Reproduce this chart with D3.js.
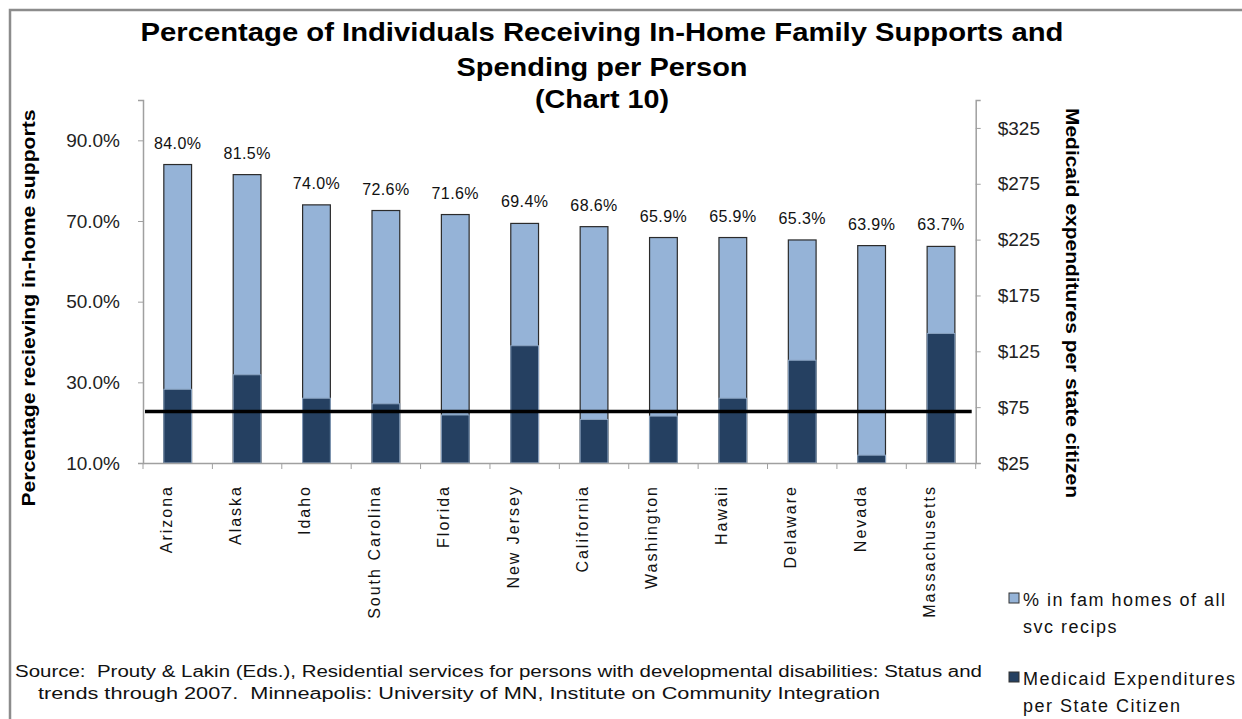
<!DOCTYPE html>
<html>
<head>
<meta charset="utf-8">
<script src="https://cdn.jsdelivr.net/npm/d3@7"></script>
<style>
  body { margin: 0; background: #fff; }
  svg { display: block; font-family: "Liberation Sans", Arial, sans-serif; }
</style>
</head>
<body>
<div id="chart"></div>
<script>
// data
var states = ["Arizona", "Alaska", "Idaho", "South Carolina", "Florida", "New Jersey",
              "California", "Washington", "Hawaii", "Delaware", "Nevada", "Massachusetts"]
var pctFamHomes = [84.0, 81.5, 74.0, 72.6, 71.6, 69.4, 68.6, 65.9, 65.9, 65.3, 63.9, 63.7]
var medicaidPerCitizen = [91, 104, 83, 78, 68, 130, 64, 67, 83, 117, 32, 141]
var referenceSpend = 71
var leftTicks = [10, 30, 50, 70, 90]
var rightTicks = [25, 75, 125, 175, 225, 275, 325]

var W = 1242, H = 719
var margin = {top: 100, right: W - 975.7, bottom: H - 463, left: 143}
var width = W - margin.left - margin.right,
    height = H - margin.top - margin.bottom

var lightBlue = "#95b3d7", darkBlue = "#254061", axisGray = "#a0a0a0"

var svg = d3.select("#chart").append("svg")
    .attr("width", W)
    .attr("height", H)

// outer chart border (cut by the image edge on the right and bottom)
svg.append("rect")
  .attr("x", 10).attr("y", 10)
  .attr("width", W + 20).attr("height", H + 20)
  .attr("fill", "none")
  .attr("stroke", "#8c8c8c")
  .attr("stroke-width", 2.5)

// title
var titleLines = [
  {t: "Percentage of Individuals Receiving In-Home Family Supports and", y: 41, w: 923},
  {t: "Spending per Person", y: 76, w: 291},
  {t: "(Chart 10)", y: 108, w: 134}
]
svg.selectAll(".title").data(titleLines).enter().append("text")
  .attr("class", "title")
  .attr("x", 602)
  .attr("y", function(d) { return d.y })
  .attr("text-anchor", "middle")
  .attr("textLength", function(d) { return d.w })
  .attr("lengthAdjust", "spacingAndGlyphs")
  .style("font-size", "26px")
  .style("font-weight", "bold")
  .text(function(d) { return d.t })

var g = svg.append("g")
    .attr("transform", "translate(" + margin.left + "," + margin.top + ")")

var x = d3.scaleBand().domain(states).range([0, width]).paddingInner(0.6).paddingOuter(0.3)
var yL = d3.scaleLinear().domain([10, 100]).range([height, 0])
var yR = d3.scaleLinear().domain([25, 350]).range([height, 0])

var rows = states.map(function(s, i) {
  return {state: s, pct: pctFamHomes[i], spend: medicaidPerCitizen[i]}
})

// light bars: % in family homes (left axis)
g.selectAll(".light").data(rows).enter().append("rect")
  .attr("class", "light")
  .attr("x", function(d) { return x(d.state) })
  .attr("y", function(d) { return yL(d.pct) })
  .attr("width", x.bandwidth())
  .attr("height", function(d) { return height - yL(d.pct) })
  .attr("fill", lightBlue)
  .attr("stroke", "#2b2b2b")
  .attr("stroke-width", 1.2)

// dark bars: Medicaid $ per citizen (right axis), drawn in front
g.selectAll(".dark").data(rows).enter().append("rect")
  .attr("class", "dark")
  .attr("x", function(d) { return x(d.state) })
  .attr("y", function(d) { return yR(d.spend) })
  .attr("width", x.bandwidth())
  .attr("height", function(d) { return height - yR(d.spend) })
  .attr("fill", darkBlue)
  .attr("stroke", "#8aa3c0")
  .attr("stroke-width", 1)

// data labels
g.selectAll(".lbl").data(rows).enter().append("text")
  .attr("class", "lbl")
  .attr("x", function(d) { return x(d.state) + x.bandwidth() / 2 })
  .attr("y", function(d) { return yL(d.pct) - 16 })
  .attr("text-anchor", "middle")
  .style("font-size", "16px")
  .style("letter-spacing", "0.4px")
  .style("fill", "#111")
  .text(function(d) { return d.pct.toFixed(1) + "%" })

// reference line
g.append("line")
  .attr("x1", 2).attr("x2", width - 4)
  .attr("y1", yR(referenceSpend)).attr("y2", yR(referenceSpend))
  .attr("stroke", "#000")
  .attr("stroke-width", 3.5)

// left axis
var leftAxis = g.append("g")
  .call(d3.axisLeft(yL).tickValues(leftTicks).tickSize(5).tickPadding(18)
    .tickFormat(function(d) { return d.toFixed(1) + "%" }))
leftAxis.select(".domain").attr("stroke", axisGray).attr("stroke-width", 1.5)
leftAxis.selectAll(".tick line").attr("stroke", axisGray)
leftAxis.selectAll("text").style("font-size", "19px").style("font-family", "inherit").attr("fill", "#222")

// right axis
var rightAxis = g.append("g")
  .attr("transform", "translate(" + width + ",0)")
  .call(d3.axisRight(yR).tickValues(rightTicks).tickSize(5).tickPadding(17)
    .tickFormat(function(d) { return "$" + d }))
rightAxis.select(".domain").attr("stroke", axisGray).attr("stroke-width", 1.5)
rightAxis.selectAll(".tick line").attr("stroke", axisGray)
rightAxis.selectAll("text").style("font-size", "19px").style("font-family", "inherit").attr("fill", "#222")

// category axis
var bottomAxis = g.append("g")
  .attr("transform", "translate(0," + height + ")")
  .call(d3.axisBottom(x).tickSize(0))
bottomAxis.select(".domain").attr("stroke", axisGray).attr("stroke-width", 1.5)
bottomAxis.selectAll("text")
  .attr("y", 0).attr("dy", 0)
  .attr("transform", "translate(-6,22) rotate(-90)")
  .attr("text-anchor", "end")
  .style("font-size", "16px")
  .style("letter-spacing", "2px")
  .style("font-family", "inherit")
  .attr("fill", "#111")
bottomAxis.selectAll(".sep").data(d3.range(states.length + 1)).enter().append("line")
  .attr("class", "sep")
  .attr("x1", function(i) { return i * x.step() })
  .attr("x2", function(i) { return i * x.step() })
  .attr("y1", 0).attr("y2", 6)
  .attr("stroke", axisGray)

// axis titles
svg.append("text")
  .attr("transform", "translate(35,308) rotate(-90)")
  .attr("text-anchor", "middle")
  .attr("textLength", 397)
  .attr("lengthAdjust", "spacingAndGlyphs")
  .style("font-size", "18px")
  .style("font-weight", "bold")
  .text("Percentage recieving in-home supports")

svg.append("text")
  .attr("transform", "translate(1066,303) rotate(90)")
  .attr("text-anchor", "middle")
  .attr("textLength", 390)
  .attr("lengthAdjust", "spacingAndGlyphs")
  .style("font-size", "18px")
  .style("font-weight", "bold")
  .text("Medicaid expenditures per state citizen")

// legend
var legend = [
  {color: lightBlue, y: 593, lines: ["% in fam homes of all", "svc recips"]},
  {color: darkBlue, y: 672, lines: ["Medicaid Expenditures", "per State Citizen"]}
]
legend.forEach(function(l) {
  svg.append("rect")
    .attr("x", 1009).attr("y", l.y)
    .attr("width", 10).attr("height", 10)
    .attr("fill", l.color)
    .attr("stroke", "#333")
  l.lines.forEach(function(t, i) {
    svg.append("text")
      .attr("x", 1023)
      .attr("y", l.y + 13 + i * 27)
      .style("font-size", "18px")
      .style("letter-spacing", "1.5px")
      .style("fill", "#111")
      .text(t)
  })
})

// source note
svg.append("text")
  .attr("x", 15).attr("y", 677)
  .attr("textLength", 967)
  .attr("lengthAdjust", "spacingAndGlyphs")
  .style("font-size", "16px")
  .style("white-space", "pre")
  .style("fill", "#111")
  .text("Source:  Prouty & Lakin (Eds.), Residential services for persons with developmental disabilities: Status and")
svg.append("text")
  .attr("x", 38).attr("y", 699)
  .attr("textLength", 842)
  .attr("lengthAdjust", "spacingAndGlyphs")
  .style("font-size", "16px")
  .style("white-space", "pre")
  .style("fill", "#111")
  .text("trends through 2007.  Minneapolis: University of MN, Institute on Community Integration")
</script>
</body>
</html>
